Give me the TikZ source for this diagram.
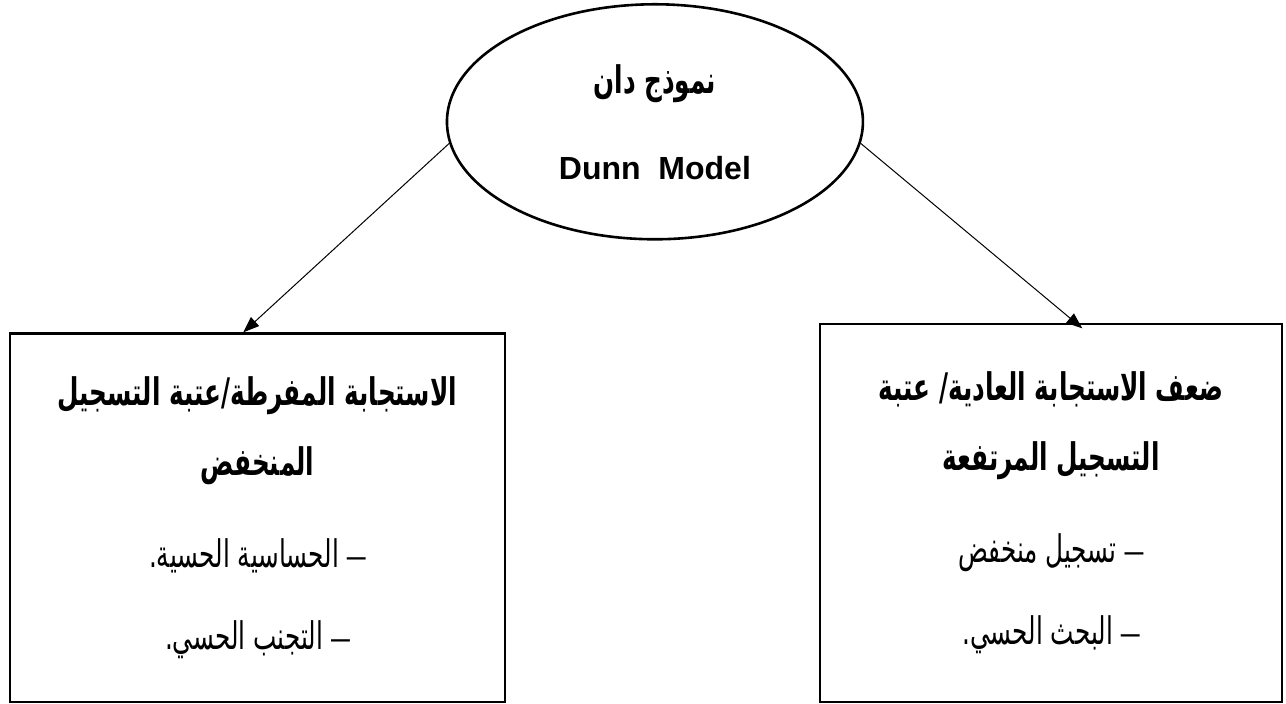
\documentclass[tikz,border=0pt]{standalone}
\usepackage{fontspec}
\setmainfont{Liberation Sans}
\newfontfamily\arabicfont[Script=Arabic, FakeStretch=0.65]{DejaVu Sans}
\TeXXeTstate=1
\usetikzlibrary{arrows.meta,shapes.geometric}
\newcommand{\artxt}[1]{{\arabicfont\beginR #1\endR}}
\newcommand{\itemdash}{{\rmfamily\fontsize{17}{35}\selectfont –}}

\begin{document}
\begin{tikzpicture}[
			model/.style={ellipse, draw, line width=1.3pt, minimum width=7.31cm, minimum height=4.13cm, align=center, font=\bfseries\fontsize{16}{43}\selectfont},
			group/.style={rectangle, draw, line width=1.4pt, align=center, font=\fontsize{19}{35}\selectfont},
			arrow/.style={-{Triangle[length=8pt,width=6pt]}, line width=0.5pt},
			]
			\useasboundingbox (0,0) rectangle (22.60,-12.37);
			% Model
			\node[model] (dunn) at (11.51,-2.14) {{\fontsize{19}{43}\selectfont\artxt{نموذج دان}}\\Dunn\ \ Model};
			% Groups
			\node[group, minimum width=8.70cm, minimum height=6.47cm] (over) at (4.525,-9.10)
			{\textbf{\artxt{الاستجابة المفرطة/عتبة التسجيل}}\\ \textbf{\artxt{المنخفض}}\\[11pt]
				\artxt{\itemdash{} الحساسية الحسية.}\\[6pt] \artxt{\itemdash{} التجنب الحسي.}};
			\node[group, minimum width=8.12cm, minimum height=6.64cm] (under) at (18.47,-9.015)
			{\textbf{\artxt{ضعف الاستجابة العادية/ عتبة}}\\ \textbf{\artxt{التسجيل المرتفعة}}\\[11pt]
				\artxt{\itemdash{} تسجيل منخفض}\\[6pt] \artxt{\itemdash{} البحث الحسي.}};
			
			% Arrows
			\draw[arrow] (dunn.186) -- ([xshift=-0.25cm]over.north);
			\draw[arrow] (dunn.-6) -- ([xshift=0.55cm, yshift=-0.1cm]under.north);
		\end{tikzpicture}
\end{document}
